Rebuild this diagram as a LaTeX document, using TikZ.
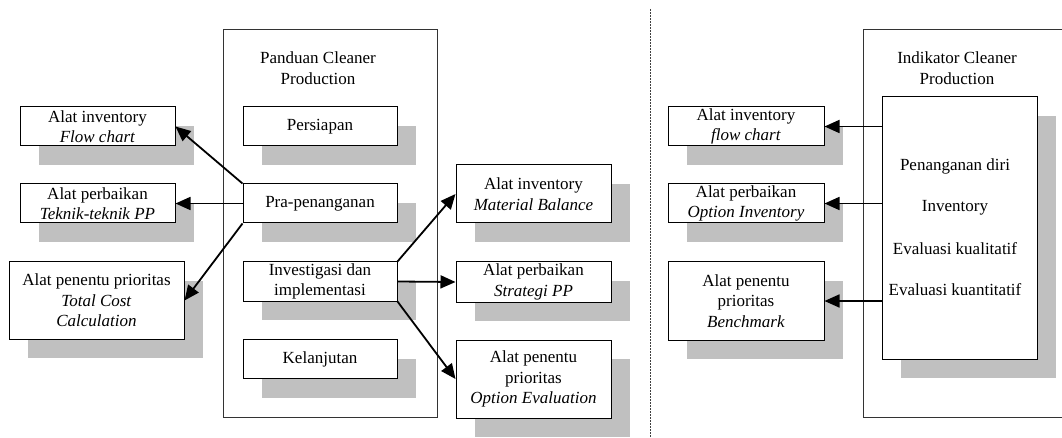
\documentclass[tikz,border=0pt]{standalone}
\usepackage{fontspec}
\setmainfont{Liberation Serif}
\usetikzlibrary{arrows.meta,shadows}
\definecolor{shadegray}{RGB}{192,192,192}
\begin{document}
\begin{tikzpicture}[x=1pt,y=-1pt,
  font=\fontsize{17}{20.5}\selectfont,
  box/.style={draw=black, line width=1pt, fill=white, align=center, inner sep=0pt,
    general shadow={fill=shadegray, shadow xshift=19pt, shadow yshift=-19pt}},
  frame/.style={draw=black!80, line width=0.9pt, inner sep=0pt},
  title/.style={align=center, inner sep=0pt},
  label/.style={inner sep=0pt},
  arr/.style={draw=black, line width=1.8pt, -{Triangle[length=15pt,width=13pt]}},
  divider/.style={draw=black!75, line width=0.8pt, dash pattern=on 2pt off 1pt}
]
\useasboundingbox (0,0) rectangle (1062,438);

% containers
\node[frame, minimum width=214pt, minimum height=388pt] (pand) at (330,223) {};
\draw[frame] (1070,29) -| (863,417) -- (1070,417);

% divider
\coordinate (dtop) at (650,9);
\coordinate (dbot) at (650,438);
\draw[divider] (dtop) -- (dbot);

% titles
\node[title] (ptitle) at (318,68) {Panduan Cleaner\\Production};
\node[title] (ititle) at (957,68) {Indikator Cleaner\\Production};

% left tools
\node[box, minimum width=155pt, minimum height=39pt] (flow) at (97.5,126.5) {Alat inventory\\\textit{Flow chart}};
\node[box, minimum width=155pt, minimum height=39pt] (teknik) at (97.5,203.5) {Alat perbaikan\\\textit{Teknik-teknik PP}};
\node[box, minimum width=175pt, minimum height=77pt] (total) at (96.5,300.5) {Alat penentu prioritas\\\textit{Total Cost}\\\textit{Calculation}};

% Panduan steps
\node[box, minimum width=154pt, minimum height=39pt] (pers) at (320,126.5) {Persiapan};
\node[box, minimum width=154pt, minimum height=39pt] (pra) at (320,203.5) {Pra-penanganan};
\node[box, minimum width=154pt, minimum height=39pt] (inv) at (320,281.5) {Investigasi dan\\implementasi};
\node[box, minimum width=154pt, minimum height=39pt] (kel) at (320,359) {Kelanjutan};

% middle tools
\node[box, minimum width=155pt, minimum height=58pt] (mat) at (533.5,194) {Alat inventory\\\textit{Material Balance}};
\node[box, minimum width=155pt, minimum height=40pt] (strat) at (533.5,282) {Alat perbaikan\\\textit{Strategi PP}};
\node[box, minimum width=155pt, minimum height=78pt] (opt) at (533.5,379) {Alat penentu\\prioritas\\\textit{Option Evaluation}};

% Indikator inner box
\node[box, minimum width=155pt, minimum height=262pt] (inner) at (959.5,228) {};
\node[label] (l1) at (955,166) {Penanganan diri};
\node[label] (l2) at (955,208) {Inventory};
\node[label] (l3) at (955,249) {Evaluasi kualitatif};
\node[label] (l4) at (955,290) {Evaluasi kuantitatif};

% right tools
\node[box, minimum width=156pt, minimum height=39pt] (fc2) at (746,126.5) {Alat inventory\\\textit{flow chart}};
\node[box, minimum width=156pt, minimum height=39pt] (oi) at (746,203.5) {Alat perbaikan\\\textit{Option Inventory}};
\node[box, minimum width=156pt, minimum height=78pt] (bm) at (746,301) {Alat penentu\\prioritas\\\textit{Benchmark}};

% arrows
\draw[arr] (pra.north west) -- (flow.east);
\draw[arr] (pra.west) -- (teknik.east);
\draw[arr] (pra.south west) -- (total.east);
\draw[arr] (inv.north east) -- (mat.west);
\draw[arr] (inv.east) -- (strat.west);
\draw[arr] (inv.south east) -- (opt.west);
\draw[arr] (inner.west |- fc2.east) -- (fc2.east);
\draw[arr] (inner.west |- oi.east) -- (oi.east);
\draw[arr] (inner.west |- bm.east) -- (bm.east);
\end{tikzpicture}
\end{document}
